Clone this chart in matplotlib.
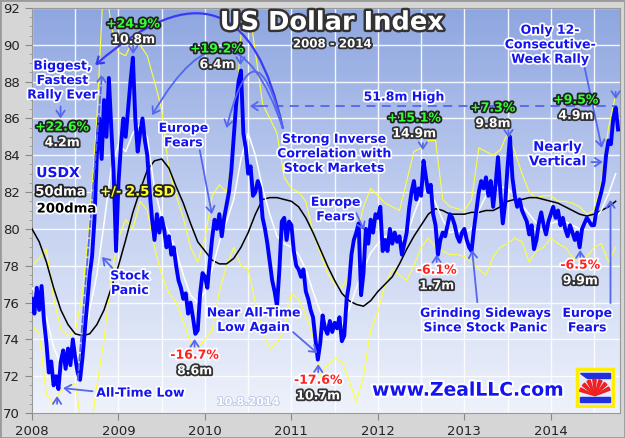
import numpy as np
import matplotlib
matplotlib.use('Agg')
import matplotlib.pyplot as plt
import matplotlib.patheffects as pe
from matplotlib.colors import LinearSegmentedColormap
from matplotlib.patches import Rectangle, Wedge, Polygon

# USDX, three readings per month (1st, 11th, 21st), Jan 2008 - Oct 2014
usdx_2008 = [76.2, 75.4, 76.8, 75.6, 76.9, 75.0, 73.8, 72.2, 72.8, 71.5, 72.0, 71.3,
             72.8, 73.4, 72.4, 73.5, 72.6, 74.0, 73.0, 72.2, 71.8, 73.0, 74.5, 76.0,
             77.5, 78.5, 80.5, 84.0, 86.0, 83.8, 87.0, 85.0, 88.2, 85.5, 83.0, 78.8]
usdx_2009 = [82.5, 84.5, 86.0, 85.0, 86.5, 88.0, 89.3, 86.0, 84.2, 85.2, 86.0, 84.8,
             84.0, 82.0, 80.5, 79.4, 80.8, 79.8, 80.6, 80.0, 79.0, 79.6, 78.6, 79.0,
             78.0, 77.2, 76.8, 76.2, 76.5, 75.4, 76.0, 75.2, 74.3, 74.5, 76.5, 77.6]
usdx_2010 = [77.4, 76.8, 78.2, 79.5, 80.5, 80.0, 80.8, 79.6, 80.6, 81.3, 82.0, 83.2,
             85.0, 86.8, 88.0, 88.6, 85.2, 84.4, 83.0, 83.4, 81.8, 82.0, 82.6, 82.2,
             80.6, 80.0, 79.2, 78.2, 77.2, 76.6, 75.8, 77.8, 80.4, 80.6, 79.4, 80.4]
usdx_2011 = [80.2, 78.8, 78.0, 77.8, 77.4, 77.8, 76.6, 76.2, 75.6, 75.2, 74.0, 72.9,
             73.8, 75.3, 74.6, 74.3, 75.0, 74.4, 74.9, 74.6, 75.2, 73.9, 74.2, 76.2,
             77.0, 78.6, 79.4, 79.8, 80.3, 76.4, 77.6, 80.0, 79.2, 80.5, 79.8, 80.8]
usdx_2012 = [80.6, 81.2, 78.8, 79.4, 78.8, 80.0, 79.2, 79.8, 79.3, 79.6, 78.6, 79.2,
             79.8, 81.1, 82.0, 82.6, 81.6, 82.2, 81.8, 83.7, 82.8, 82.0, 82.4, 80.8,
             80.2, 78.6, 79.4, 79.8, 79.6, 80.2, 80.8, 80.6, 80.2, 79.6, 79.3, 79.8]
usdx_2013 = [80.0, 79.4, 79.0, 78.8, 80.0, 81.0, 82.0, 82.6, 82.2, 82.8, 81.8, 82.6,
             81.2, 82.4, 83.9, 82.0, 80.3, 81.4, 83.4, 85.0, 82.8, 81.8, 81.2, 81.6,
             81.0, 80.7, 80.4, 79.7, 80.2, 78.9, 79.4, 80.3, 80.9, 80.2, 79.7, 80.4]
usdx_2014 = [80.8, 81.2, 80.6, 81.0, 80.2, 80.6, 80.0, 79.6, 80.2, 79.8, 79.4, 79.8,
             79.0, 80.0, 80.3, 80.6, 80.4, 80.2, 80.2, 81.0, 81.5, 82.0, 82.6, 84.0,
             84.8, 84.6, 86.0, 86.6, 85.4]
usdx = usdx_2008 + usdx_2009 + usdx_2010 + usdx_2011 + usdx_2012 + usdx_2013 + usdx_2014

# monthly readings, Jan 2008 - Oct 2014
dma50 = [76.8, 76.3, 75.2, 73.6, 72.6, 72.6, 73.0, 73.4, 75.6, 77.5, 80.3, 83.3,
         84.6, 84.2, 85.2, 85.7, 85.0, 82.2, 80.6, 79.8, 78.8, 77.5, 76.4, 76.0,
         76.6, 77.8, 79.3, 80.4, 81.6, 83.8, 85.2, 84.0, 82.2, 80.8, 79.6, 79.2,
         79.0, 78.6, 77.8, 76.6, 75.5, 74.9, 74.6, 74.8, 75.6, 76.8, 77.8, 78.7,
         79.2, 79.6, 79.6, 79.3, 79.6, 80.8, 81.8, 82.2, 81.4, 80.5, 79.8, 79.9,
         79.8, 80.0, 81.0, 81.8, 82.1, 82.3, 82.2, 81.8, 81.3, 80.8, 80.3, 80.2,
         80.3, 80.4, 80.4, 80.2, 80.0, 80.3, 80.5, 81.0, 81.9, 83.0]
dma200 = [80.0, 79.3, 78.2, 76.8, 75.6, 74.8, 74.3, 74.2, 74.3, 74.8, 75.6, 76.8,
          78.0, 79.4, 80.9, 82.1, 83.2, 83.7, 83.8, 83.3, 82.3, 81.4, 80.3, 79.3,
          78.8, 78.3, 78.1, 78.1, 78.4, 79.0, 79.8, 80.8, 81.6, 81.7, 81.7, 81.6,
          81.5, 81.2, 80.6, 79.8, 78.9, 78.0, 77.2, 76.5, 76.1, 75.9, 75.8, 76.1,
          76.6, 77.0, 77.4, 78.1, 78.9, 79.6, 80.2, 80.8, 81.1, 81.0, 80.8, 80.8,
          80.8, 80.9, 80.9, 81.0, 81.0, 81.2, 81.5, 81.6, 81.6, 81.7, 81.7, 81.6,
          81.5, 81.4, 81.2, 81.0, 80.8, 80.7, 80.8, 81.0, 81.2, 81.5]
sd_upper = [78.0, 78.4, 78.9, 76.2, 74.6, 74.2, 74.4, 76.5, 80.5, 86.0, 94.0, 91.0,
            89.6, 89.4, 90.3, 90.0, 89.4, 88.0, 86.5, 83.2, 81.8, 80.6, 79.0, 78.2,
            79.5, 81.8, 82.4, 82.0, 84.5, 90.5, 92.3, 89.6, 86.8, 86.0, 85.2, 82.8,
            82.2, 82.0, 81.5, 79.8, 78.7, 77.6, 77.0, 76.8, 77.5, 79.5, 81.2, 82.2,
            81.8, 81.4, 81.2, 81.0, 82.6, 84.2, 84.4, 84.8, 84.8, 81.6, 81.2, 81.1,
            81.0, 81.6, 84.4, 84.2, 84.0, 84.3, 85.2, 84.2, 83.0, 82.0, 81.7, 81.8,
            81.8, 81.5, 81.5, 81.4, 81.2, 80.8, 81.0, 82.5, 85.5, 87.3]
sd_lower = [74.8, 74.3, 71.0, 70.5, 71.2, 71.4, 71.6, 69.0, 68.5, 71.5, 74.0, 77.5,
            79.5, 80.5, 80.0, 81.5, 81.0, 79.0, 77.5, 76.5, 76.0, 75.0, 73.8, 73.5,
            74.0, 74.5, 76.6, 78.0, 79.0, 78.0, 77.8, 76.0, 74.5, 73.5, 73.8, 74.5,
            76.5, 76.2, 75.3, 74.2, 72.0, 72.6, 73.0, 72.8, 71.8, 70.6, 72.0, 74.5,
            75.5, 77.0, 77.8, 77.5, 77.2, 78.0, 79.0, 79.5, 79.0, 78.8, 78.6, 78.6,
            78.5, 78.2, 77.8, 77.5, 78.5, 79.0, 79.2, 79.5, 79.3, 78.2, 78.8, 79.0,
            79.5, 79.2, 79.0, 78.5, 78.2, 78.5, 79.0, 79.2, 78.2, 79.0]

years = [2008, 2009, 2010, 2011, 2012, 2013, 2014]
high_518 = 86.67   # 51.8m high level

x_usdx = 2008 + np.arange(len(usdx)) / 36
x_month = 2008 + np.arange(len(dma50)) / 12

fig = plt.figure(figsize=(6.25, 4.38), dpi=100, facecolor='#d6d6d6')
ax = fig.add_axes([32/625, 25/438, 588/625, 405/438])

# blue gradient background
grad = LinearSegmentedColormap.from_list('bg', ['#8ea6e0', '#c3d0f0', '#eef2fb'])
ax.imshow(np.linspace(0, 1, 256).reshape(-1, 1), cmap=grad, aspect='auto',
          extent=[2008, 2014.8, 70, 92], zorder=0)

ax.plot(x_month, sd_upper, color='#ffff3c', lw=0.8, zorder=2)
ax.plot(x_month, sd_lower, color='#ffff3c', lw=0.8, zorder=2)
ax.plot(x_month, dma200, color='black', lw=1.1, zorder=3)
ax.plot(x_month, dma50, color='white', lw=1.1, zorder=3)
ax.plot(x_usdx, usdx, color='#0000ff', lw=2.8, zorder=4)

ax.set_xlim(2008, 2014.8)
ax.set_ylim(70, 92)
ax.set_xticks(years)
ax.set_xticks(np.arange(2008.5, 2014.8, 1), minor=True)
ax.set_yticks(range(70, 93, 2))
ax.set_yticks(np.arange(70, 92, 0.5), minor=True)
ax.tick_params(labelsize=9.5, labelcolor='#222222', color='#888888', length=5)
ax.tick_params(which='minor', length=2, color='#999999')
ax.tick_params(axis='x', which='minor', length=0)
ax.grid(True, which='both', color='white', lw=1, alpha=0.9)
ax.tick_params(axis='y', which='minor', grid_alpha=0)
ax.set_axisbelow(True)
for s in ax.spines.values():
    s.set_color('#999999')

ARROW = '#5566f0'
BLUE = '#1414f0'

def label(x, y, s, color, edge, size=9, lw=2.6, **kw):
    ax.text(x, y, s, color=color, fontsize=size, fontweight='bold', ha='center',
            va='center', zorder=10, linespacing=1.15,
            path_effects=[pe.withStroke(linewidth=lw, foreground=edge)], **kw)

def arrow(x0, y0, x1, y1, rad=0.0, color=ARROW, lw=1.3, ls='-'):
    ax.annotate('', xy=(x1, y1), xytext=(x0, y0), annotation_clip=False, zorder=9,
                arrowprops=dict(arrowstyle='->,head_length=0.45,head_width=0.3',
                                color=color, lw=lw, ls=ls, shrinkA=0, shrinkB=0,
                                connectionstyle='arc3,rad=%s' % rad))

def pct(x, y, p, m, up=True):
    if up:
        label(x, y, p, '#33ff33', '#222222')
        label(x, y - 0.85, m, 'white', '#333333')
    else:
        label(x, y, p, '#ff2020', 'white')
        label(x, y - 0.85, m, 'white', '#333333')

# title
ax.text(2011.47, 91.2, 'US Dollar Index', fontsize=18.5, fontweight='bold', color='white',
        ha='center', va='center', zorder=10,
        path_effects=[pe.withStroke(linewidth=3.5, foreground='#333333')])
label(2011.47, 90.05, '2008 - 2014', 'white', '#333333', size=8.5)

# legend-like labels
label(2008.30, 83.03, 'USDX', BLUE, 'white', size=10)
label(2008.33, 82.0, '50dma', 'white', '#222222', size=9.5)
label(2008.40, 81.08, '200dma', 'black', 'white', size=9.5)
label(2009.22, 82.0, '+/- 2.5 SD', '#ffff33', '#222222', size=9.5)

# blue notes
label(2008.35, 88.06, 'Biggest,\nFastest\nRally Ever', BLUE, 'white')
arrow(2008.33, 86.65, 2008.33, 86.0)
pct(2008.35, 85.53, '+22.6%', '4.2m')
arrow(2008.53, 71.8, 2008.81, 88.4, ls='--')

pct(2009.17, 91.13, '+24.9%', '10.8m')
arrow(2009.17, 89.95, 2009.17, 89.5)
pct(2010.14, 89.77, '+19.2%', '6.4m')
arrow(2010.41, 89.35, 2010.41, 88.9)

label(2009.75, 85.07, 'Europe\nFears', BLUE, 'white')
arrow(2009.94, 84.28, 2010.08, 80.8)

label(2011.49, 84.08, 'Strong Inverse\nCorrelation with\nStock Markets', BLUE, 'white')
arrow(2010.90, 85.48, 2008.73, 88.9, rad=0.85, color='#3a3af5', lw=1.6)
arrow(2010.90, 85.48, 2009.39, 86.18, rad=1.1)
arrow(2010.90, 85.48, 2010.25, 85.48, rad=2.0)

ax.plot([2010.62, 2014.74], [high_518, high_518], color=ARROW, lw=1.3, ls=(0, (5, 3.5)), zorder=8)
arrow(2010.66, high_518, 2010.52, high_518)
label(2012.30, 87.16, '51.8m High', BLUE, 'white')

pct(2012.42, 86.02, '+15.1%', '14.9m')
arrow(2012.52, 84.66, 2012.52, 84.28)
pct(2013.33, 86.57, '+7.3%', '9.8m')
arrow(2013.51, 85.37, 2013.51, 84.95)
pct(2014.29, 87.0, '+9.5%', '4.9m')
arrow(2014.75, 87.45, 2014.75, 87.05)

label(2013.99, 90.0, 'Only 12-\nConsecutive-\nWeek Rally', BLUE, 'white')
arrow(2014.39, 88.79, 2014.59, 84.4)
label(2014.08, 84.04, 'Nearly\nVertical', BLUE, 'white', size=9.5)
arrow(2014.47, 83.63, 2014.60, 83.63)

label(2009.13, 77.05, 'Stock\nPanic', BLUE, 'white')
arrow(2008.93, 77.87, 2008.81, 78.47)

label(2010.56, 75.04, 'Near All-Time\nLow Again', BLUE, 'white')
arrow(2011.02, 74.39, 2011.30, 73.25)
pct(2009.88, 73.14, '-16.7%', '8.6m', up=False)
arrow(2009.88, 73.6, 2009.88, 74.02)

label(2009.25, 71.08, 'All-Time Low', BLUE, 'white')
arrow(2008.70, 71.18, 2008.36, 71.35)
arrow(2008.29, 70.5, 2008.29, 70.92)

pct(2011.31, 71.78, '-17.6%', '10.7m', up=False)
arrow(2011.31, 72.22, 2011.31, 72.65)

label(2011.51, 81.05, 'Europe\nFears', BLUE, 'white')
arrow(2011.75, 80.86, 2011.84, 79.93)

pct(2012.68, 77.76, '-6.1%', '1.7m', up=False)
arrow(2012.68, 78.2, 2012.68, 78.6)
label(2013.24, 75.02, 'Grinding Sideways\nSince Stock Panic', BLUE, 'white')
arrow(2013.15, 76.02, 2013.09, 78.85)

pct(2014.34, 78.03, '-6.5%', '9.9m', up=False)
arrow(2014.34, 78.47, 2014.34, 78.85)
label(2014.42, 75.02, 'Europe\nFears', BLUE, 'white')
arrow(2014.69, 75.97, 2014.69, 81.57)

label(2013.04, 71.24, 'www.ZealLLC.com', BLUE, 'white', size=13.5, lw=3)
ax.text(2010.50, 70.59, '10.8.2014', color='white', fontsize=8, fontweight='bold',
        ha='center', va='center', zorder=10,
        path_effects=[pe.withStroke(linewidth=1.2, foreground='#b8c4e8')])

# logo
lg = fig.add_axes([575/625, 30/438, 40/625, 41/438])
lg.set_xlim(0, 1)
lg.set_ylim(0, 1)
lg.axis('off')
lg.add_patch(Rectangle((0.04, 0.04), 0.92, 0.92, facecolor='#e8ecff', edgecolor='#ffee00', lw=2.5))
lg.add_patch(Polygon([[0.12, 0.85], [0.88, 0.85], [0.88, 0.72], [0.3, 0.72]], color='#2030e0'))
lg.add_patch(Polygon([[0.12, 0.15], [0.88, 0.15], [0.88, 0.28], [0.12, 0.28]], color='#2030e0'))
for a in range(20, 170, 22):
    lg.add_patch(Wedge((0.5, 0.3), 0.4, a, a + 12, color='#ee2020'))

fig.add_artist(Rectangle((0, 0), 1, 1, transform=fig.transFigure, fill=False,
                         edgecolor='#9a9a9a', lw=2))

plt.savefig('out.png', dpi=100, facecolor=fig.get_facecolor())
